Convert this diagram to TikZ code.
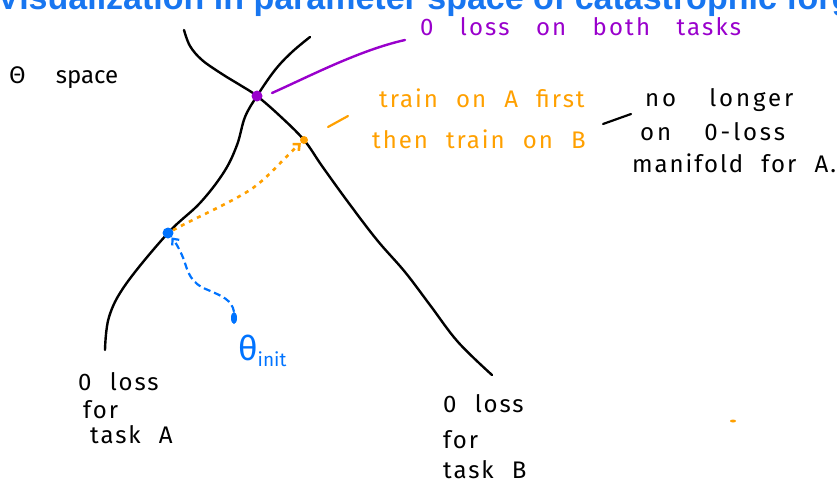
\documentclass[tikz,border=0pt]{standalone}
\usepackage{fontspec}
\setmainfont{Liberation Sans}
\newfontfamily\hand{Fira Sans}[LetterSpace=8, WordSpace=2.2]
\newfontfamily\handmid{Fira Sans}[LetterSpace=9, WordSpace=3.1]
\newfontfamily\handwide{Fira Sans}[LetterSpace=12, WordSpace=3.6]
\newfontfamily\handplain{Fira Sans}
\usetikzlibrary{arrows.meta,shapes.geometric}

\definecolor{titleblue}{RGB}{24,118,240}
\definecolor{inkblue}{RGB}{0,115,255}
\definecolor{inkpurple}{RGB}{153,0,204}
\definecolor{inkorange}{RGB}{255,160,0}

\tikzset{
  manifold/.style={line width=2.4pt, black, line cap=round},
  dotnode/.style={circle, inner sep=0pt, minimum size=11pt},
  handtext/.style={anchor=base west, inner sep=0pt, align=left,
    font=\hand\fontsize{24}{24}\selectfont},
  midtext/.style={anchor=base west, inner sep=0pt, align=left,
    font=\handmid\fontsize{24}{24}\selectfont},
  widetext/.style={anchor=base west, inner sep=0pt, align=left,
    font=\handwide\fontsize{24}{24}\selectfont},
  tick/.style={line width=2.2pt, line cap=round},
}

\begin{document}
\begin{tikzpicture}[x=1pt,y=-1pt]
\useasboundingbox (0,0) rectangle (837,483);
\clip (0,0) rectangle (837,483);

% heading, cut by the top edge of the page
\node[anchor=base west, inner sep=0pt, text=titleblue,
  font=\bfseries\fontsize{34}{34}\selectfont] (title) at (-3,9)
  {Visualization in parameter space of catastrophic forgetting};

% zero-loss manifolds
\draw[manifold] plot[smooth, tension=0.6] coordinates
  {(105,350) (109,317) (126,284) (168,233) (200,203) (224,172) (237,145) (245,117) (257,96) (275,70) (292,52) (310,37)};
\draw[manifold] plot[smooth, tension=0.6] coordinates
  {(184,30) (190,46) (202,60) (222,74) (240,85) (257,96) (280,116) (304,140) (322,166) (348,202) (377,240) (405,272) (430,305) (458,342) (492,375)};

% points in parameter space
\node[dotnode, fill=inkpurple] (both) at (257,96) {};
\node[dotnode, fill=inkblue] (solA) at (168,233) {};
\node[dotnode, fill=inkorange, minimum size=8pt] (solB) at (304,140) {};
\node[ellipse, fill=inkblue, inner sep=0pt, minimum width=6pt, minimum height=12pt] (init) at (234,318) {};

% training trajectories
\draw[inkblue, line width=2.2pt, dash pattern=on 7pt off 4pt, -{Straight Barb[length=5pt,width=9pt]}]
  (init.north) .. controls (232,300) and (222,296) .. (208,290)
  .. controls (190,283) and (188,272) .. (184,260)
  .. controls (180,250) and (176,243) .. (solA);
\draw[inkorange, line width=2.6pt, dash pattern=on 4pt off 5pt, -{Straight Barb[length=5pt,width=9pt]}]
  (solA) .. controls (195,218) and (228,204) .. (250,190)
  .. controls (268,178) and (282,160) .. (solB);

% labels
\node[anchor=base west, inner sep=0pt, font=\handplain\fontsize{24}{24}\selectfont] (theta) at (9,83) {Θ\hspace{30pt}space};

\node[midtext, text=inkpurple] (lblboth) at (420,35) {0 loss on both tasks};
\draw[inkpurple, line width=2.4pt, line cap=round] (272,93) .. controls (310,76) and (360,50) .. (405,40);

\node[handtext, text=inkorange] (lblorder1) at (379,107) {train on A first};
\node[handtext, text=inkorange] (lblorder2) at (372,148) {then train on B};
\draw[inkorange, tick] (328,127) -- (348,116);

\node[widetext] (lbloff1) at (645,106) {no longer};
\node[widetext] (lbloff2) at (640,140) {on 0-loss};
\node[handtext] (lbloff3) at (632,172) {manifold for A.};
\draw[black, tick] (603,124) -- (631,114);

\node[anchor=base west, inner sep=0pt, text=inkblue, font=\handplain\fontsize{34}{34}\selectfont] (lblinit) at (238,360) {θ\textsubscript{\fontsize{19}{19}\selectfont init}};

\node[handtext] (lblA1) at (78,390) {0 loss};
\node[handtext] (lblA2) at (83,418) {for};
\node[handtext] (lblA3) at (90,443) {task A};

\node[handtext] (lblB1) at (443,412) {0 loss};
\node[handtext] (lblB2) at (443,448) {for};
\node[handtext] (lblB3) at (443,478) {task B};

% stray ink speck
\fill[inkorange] (733,421) ellipse (3pt and 1.5pt);
\end{tikzpicture}
\end{document}
